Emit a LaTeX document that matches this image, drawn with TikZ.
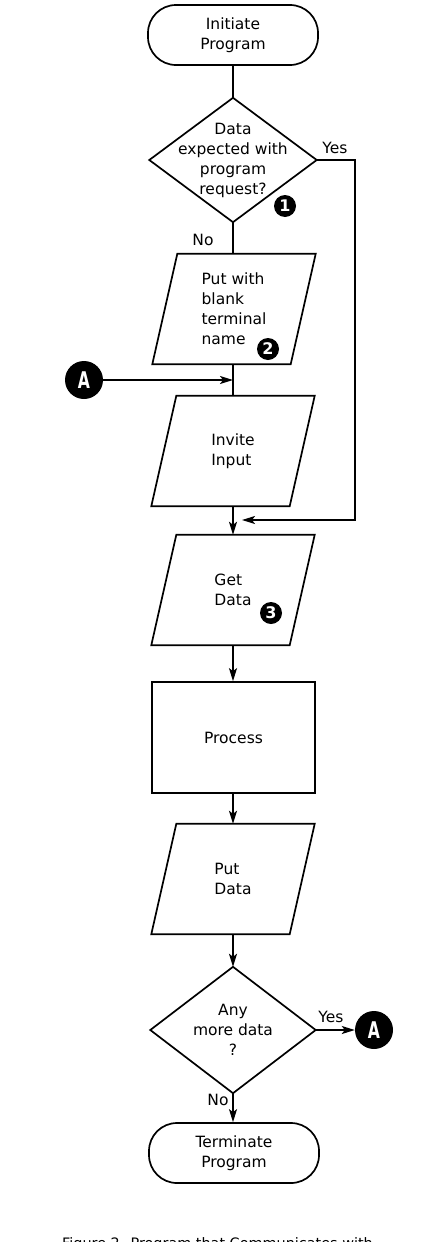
\documentclass[tikz,border=0pt]{standalone}
\usepackage{fontspec}
\setmainfont{DejaVu Sans}
\usepackage{graphicx}
\usetikzlibrary{arrows.meta}
\newcommand\drawpara[1]{\draw[ln] ([xshift=12.5pt]#1.north west) -- ([xshift=12.5pt]#1.north east) -- ([xshift=-12.5pt]#1.south east) -- ([xshift=-12.5pt]#1.south west) -- cycle;}
\newcommand\drawdiam[1]{\draw[ln] (#1.north) -- (#1.east) -- (#1.south) -- (#1.west) -- cycle;}
\begin{document}
\begin{tikzpicture}[x=1pt,y=-1pt,
  every node/.style={font=\fontsize{15.5}{20}\selectfont},
  ln/.style={line width=1.7pt},
  arr/.style={line width=1.7pt,-{Stealth[length=13pt,width=8pt,inset=3pt]}},
  term/.style={draw,line width=1.7pt,rounded corners=28pt,minimum width=170pt,minimum height=60pt,align=center,inner sep=0pt},
  parabox/.style={minimum width=138pt,minimum height=110pt,inner sep=0pt,align=left},
  procbox/.style={draw,line width=1.7pt,minimum width=163pt,minimum height=111pt,inner sep=0pt},
  dbox/.style={minimum width=167pt,minimum height=124pt,inner sep=0pt,align=center},
  badge/.style={circle,fill=black,text=white,minimum size=22pt,inner sep=0pt,font=\fontsize{16}{16}\selectfont\bfseries},
  conn/.style={circle,fill=black,text=white,minimum size=38pt,inner sep=0pt,font=\fontsize{23}{23}\selectfont\bfseries},
  lbl/.style={inner sep=0pt}
]
\useasboundingbox[fill=white] (0,0) rectangle (428,1242);

% nodes
\node[term] (init) at (233,35) {Initiate\\Program};
\node[dbox] (d1) at (233,160) {Data\\expected with\\program\\request?};
\drawdiam{d1}
\node[badge] (b1) at (285,206) {1};

\node[parabox] (p1) at (234,309) {Put with\\blank\\terminal\\name};
\drawpara{p1}
\node[badge] (b2) at (268,349) {2};

\node[conn] (A1) at (84,380) {\scalebox{0.68}[1]{A}};
\coordinate (j1) at (233,380);

\node[parabox] (p2) at (233,451) {Invite\\Input};
\drawpara{p2}

\node[parabox] (p3) at (233,590) {Get\\Data};
\drawpara{p3}
\node[badge] (b3) at (271,613) {3};

\node[procbox] (proc) at (233.5,737.5) {Process};

\node[parabox] (p4) at (233,879) {Put\\Data};
\drawpara{p4}

\node[dbox,minimum width=165pt,minimum height=126pt] (d2) at (233,1030) {Any\\more data\\?};
\drawdiam{d2}

\node[conn] (A2) at (374,1030) {\scalebox{0.68}[1]{A}};

\node[term] (termn) at (234,1153) {Terminate\\Program};

% connectors
\draw[ln] (init) -- (d1.north);
\draw[ln] (d1.south) -- (p1.north -| d1.south);
\node[lbl] (no1) at (203,240) {No};
\draw[ln] (p1.south -| d1.south) -- (p2.north);
\draw[arr] (A1.east) -- (j1);
\draw[arr] (p2.south) -- (p3.north);
\coordinate (y1) at (355,160);
\coordinate (y2) at (355,520);
\coordinate (j2) at (242,520);
\draw[arr] (d1.east) -- (y1) -- (y2) -- (j2);
\node[lbl] (yes1) at (335,148) {Yes};
\draw[arr] (p3.south) -- (proc.north -| p3.south);
\draw[arr] (proc.south -| p3.south) -- (p4.north);
\draw[arr] (p4.south) -- (d2.north);
\draw[arr] (d2.east) -- (A2.west);
\node[lbl] (yes2) at (331,1017) {Yes};
\draw[arr] (d2.south) -- (termn.north -| d2.south);
\node[lbl] (no2) at (218,1100) {No};

% caption (cut off at the bottom edge, as in the reference)
\begin{scope}
\clip (0,0) rectangle (428,1242);
\node[lbl,anchor=base west,font=\fontsize{14.4}{16}\selectfont] (cap) at (62,1248.5) {Figure 2. Program that Communicates with};
\end{scope}
\end{tikzpicture}
\end{document}
